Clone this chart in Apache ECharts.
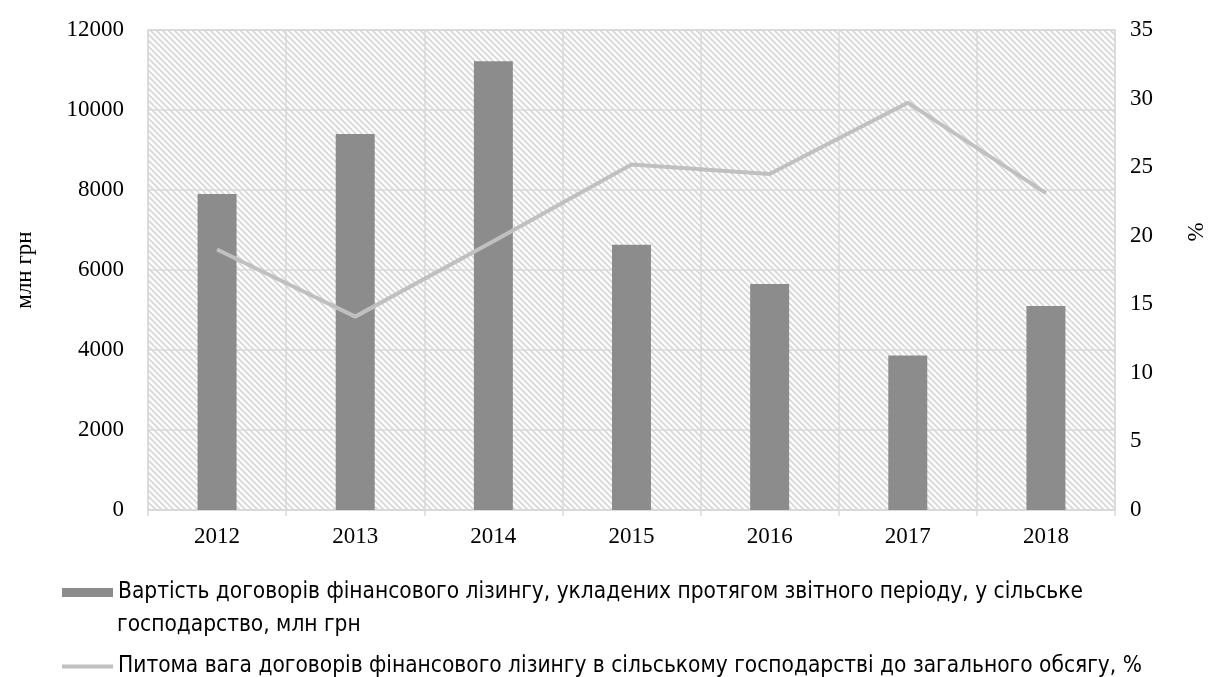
<!DOCTYPE html>
<html>
<head>
<meta charset="utf-8">
<script src="https://cdn.jsdelivr.net/npm/echarts@6/dist/echarts.min.js"></script>
<style>
  html, body { margin: 0; padding: 0; background: #fff; }
  #chart { width: 1208px; height: 677px; }
</style>
</head>
<body>
<div id="chart"></div>
<script>
// Роки
const years = ['2012', '2013', '2014', '2015', '2016', '2017', '2018'];
// Вартість договорів фінансового лізингу, млн грн
const leaseValue = [7900, 9400, 11220, 6630, 5650, 3860, 5100];
// Питома вага в сільському господарстві, %
const leaseShare = [19.0, 14.1, 19.6, 25.2, 24.5, 29.7, 23.1];

const barName = 'Вартість договорів фінансового лізингу, укладених протягом звітного періоду, у сільське господарство, млн грн';
const lineName = 'Питома вага договорів фінансового лізингу в сільському господарстві до загального обсягу, %';
const barLegendLine1 = 'Вартість договорів фінансового лізингу, укладених протягом звітного періоду, у сільське';
const barLegendLine2 = 'господарство, млн грн';

// diagonal hatch for the plot background
const T = 6;
const tile = document.createElement('canvas');
tile.width = T; tile.height = T;
const tctx = tile.getContext('2d');
tctx.fillStyle = '#ffffff';
tctx.fillRect(0, 0, T, T);
tctx.strokeStyle = '#d6d6d6';
tctx.lineWidth = 1.6;
for (let k = -1; k <= 1; k++) {
  tctx.beginPath();
  tctx.moveTo(-1, k * T - 1);
  tctx.lineTo(T + 1, k * T + T + 1);
  tctx.stroke();
}

const serif = '"Liberation Serif", "Times New Roman", serif';
const narrow = '"Liberation Sans Narrow", "Arial Narrow", "DejaVu Sans Condensed", sans-serif';
const gridColor = '#d9d9d9';
const legendFont = 22.5;

const chart = echarts.init(document.getElementById('chart'));
chart.setOption({
  animation: false,
  backgroundColor: '#ffffff',
  grid: {
    left: 148, right: 93, top: 30, bottom: 167,
    outerBoundsMode: 'none',
    containLabel: false,
    show: true,
    backgroundColor: { image: tile, repeat: 'repeat' },
    borderColor: gridColor,
    borderWidth: 1.5
  },
  legend: [
    {
      data: [barName],
      left: 62, top: 581,
      padding: 0,
      itemWidth: 51, itemHeight: 9, itemGap: 4,
      icon: 'rect',
      formatter: () => barLegendLine1,
      textStyle: { fontFamily: narrow, fontSize: legendFont, color: '#000' }
    },
    {
      data: [{ name: lineName, icon: 'rect', itemStyle: { color: '#c0c0c0' } }],
      left: 62, top: 655,
      padding: 0,
      itemWidth: 51, itemHeight: 4,
      formatter: (n) => n,
      textStyle: { fontFamily: narrow, fontSize: legendFont, color: '#000' }
    }
  ],
  graphic: [
    {
      type: 'text',
      left: 117, top: 614,
      style: { text: barLegendLine2, font: legendFont + 'px ' + narrow, fill: '#000' }
    }
  ],
  xAxis: {
    type: 'category',
    data: years,
    boundaryGap: true,
    axisLine: { show: true, lineStyle: { color: gridColor, width: 1.5 } },
    axisTick: { show: true, length: 6, lineStyle: { color: gridColor, width: 1.5 } },
    splitLine: { show: true, lineStyle: { color: gridColor, width: 1.5 } },
    axisLabel: { fontFamily: serif, fontSize: 23, color: '#000', margin: 15 }
  },
  yAxis: [
    {
      type: 'value',
      min: 0, max: 12000, interval: 2000,
      name: 'млн грн',
      nameLocation: 'middle',
      nameGap: 112,
      nameRotate: 90,
      nameTextStyle: { fontFamily: serif, fontSize: 23, color: '#000' },
      axisLine: { show: false },
      axisTick: { show: false },
      splitLine: { show: true, lineStyle: { color: gridColor, width: 1.5 } },
      axisLabel: { fontFamily: serif, fontSize: 23, color: '#000', margin: 24, formatter: (v) => String(v) }
    },
    {
      type: 'value',
      min: 0, max: 35, interval: 5,
      name: '%',
      nameLocation: 'middle',
      nameGap: 70,
      nameRotate: 90,
      nameTextStyle: { fontFamily: serif, fontSize: 23, color: '#000', padding: [0, 0, 0, 76] },
      axisLine: { show: false },
      axisTick: { show: false },
      splitLine: { show: false },
      axisLabel: { fontFamily: serif, fontSize: 23, color: '#000', margin: 15 }
    }
  ],
  series: [
    {
      name: barName,
      type: 'bar',
      data: leaseValue,
      barWidth: 39,
      itemStyle: { color: '#8c8c8c' }
    },
    {
      name: lineName,
      type: 'line',
      yAxisIndex: 1,
      data: leaseShare,
      symbol: 'none',
      lineStyle: { color: '#c0c0c0', width: 4 },
      itemStyle: { color: '#c0c0c0' }
    }
  ]
});
</script>
</body>
</html>
